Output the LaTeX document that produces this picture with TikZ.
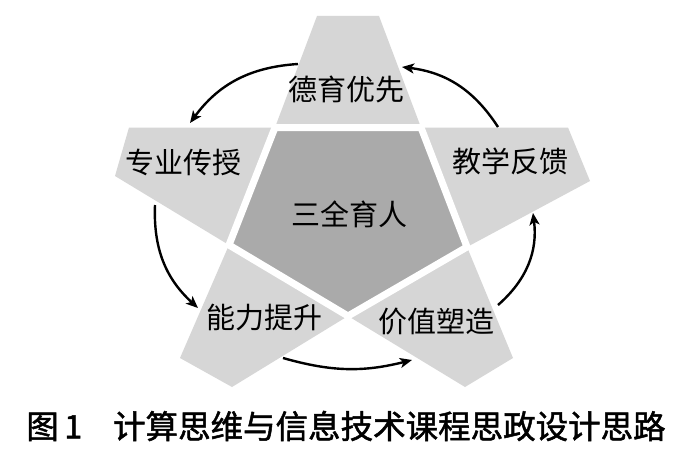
\documentclass[tikz,border=0pt]{standalone}
\usepackage{xcolor}
\usepackage{fontspec}
\usepackage{tikz}
\usetikzlibrary{arrows.meta,positioning}
\newfontfamily\cjk{Noto Sans CJK SC}
\newfontfamily\cjkcap{Noto Sans CJK SC}[FakeBold=1.5]
\definecolor{armgray}{RGB}{214,214,214}
\definecolor{coregray}{RGB}{170,170,170}

\begin{document}
\begin{tikzpicture}[x=1pt,y=1pt,
  armtext/.style={inner sep=0pt, font=\cjk\fontsize{29}{32}\selectfont},
  cyclearrow/.style={line width=2.4pt, -{Stealth[length=12pt,width=10pt,inset=3pt]}}]
\path[use as bounding box, fill=white] (0,0) rectangle (685,451);
\fill[armgray] (317,435) -- (379,435) -- (421,323.5) -- (568,323.5) -- (590,270) -- (467,204)
  -- (513,93) -- (465,64) -- (348,135) -- (232,64) -- (180,93) -- (229,206)
  -- (115,275) -- (129,323.5) -- (275,323.5) -- cycle;
\filldraw[fill=coregray, draw=white, line width=7pt] (275,323.5) -- (421,323.5) -- (467,204)
  -- (348,135) -- (229,206) -- cycle;

\node[armtext] (moral) at (346,362) {德育优先};
\node[armtext] (major) at (183,289) {专业传授};
\node[armtext] (feedback) at (510,290) {教学反馈};
\node[armtext] (core) at (349,237) {三全育人};
\node[armtext] (ability) at (264,133) {能力提升};
\node[armtext] (value) at (436,129) {价值塑造};

\coordinate (moral-w) at (298,387);
\coordinate (moral-e) at (402,384);
\coordinate (major-n) at (190,328);
\coordinate (major-s) at (155,246);
\coordinate (ability-w) at (198,143);
\coordinate (ability-s) at (283,93);
\coordinate (value-s) at (412,91);
\coordinate (value-e) at (498,146);
\coordinate (feedback-s) at (533,238);
\coordinate (feedback-n) at (498,324);

\draw[cyclearrow] (moral-w) to[bend right=25] (major-n);
\draw[cyclearrow] (major-s) to[bend right=25] (ability-w);
\draw[cyclearrow] (ability-s) to[bend right=15] (value-s);
\draw[cyclearrow] (value-e) to[bend right=28] (feedback-s);
\draw[cyclearrow] (feedback-n) to[bend right=25] (moral-e);

\node[inner sep=0pt, font=\cjkcap\fontsize{32.5}{36}\selectfont] (caption) at (346,25)
  {图\,1\hspace{0.95em}计算思维与信息技术课程思政设计思路};
\end{tikzpicture}
\end{document}
